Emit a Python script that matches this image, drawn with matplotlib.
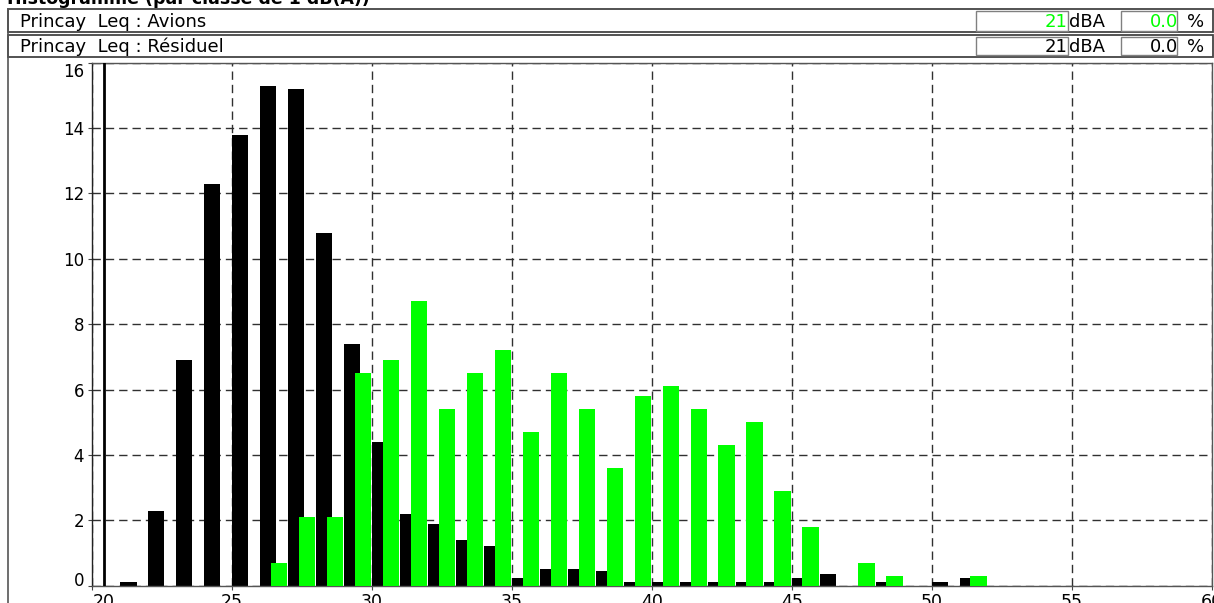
import matplotlib.pyplot as plt
from matplotlib.patches import Rectangle

# classes de 1 dB(A)
classes = list(range(21, 53))

# Princay Leq : Résiduel (noir)
residuel = [0.1, 2.3, 6.9, 12.3, 13.8, 15.3, 15.2, 10.8, 7.4, 4.4,
            2.2, 1.9, 1.4, 1.2, 0.25, 0.5, 0.5, 0.45, 0.1, 0.1,
            0.1, 0.1, 0.1, 0.1, 0.25, 0.35, 0.0, 0.1, 0.0, 0.1,
            0.25, 0.0]

# Princay Leq : Avions (vert)
avions = [0.0, 0.0, 0.0, 0.0, 0.0, 0.7, 2.1, 2.1, 6.5, 6.9,
          8.7, 5.4, 6.5, 7.2, 4.7, 6.5, 5.4, 3.6, 5.8, 6.1,
          5.4, 4.3, 5.0, 2.9, 1.8, 0.0, 0.7, 0.3, 0.0, 0.0,
          0.3, 0.0]

titre = 'Histogramme (par classe de 1 dB(A))'
lignes = ['Princay  Leq : Avions', 'Princay  Leq : Résiduel']
couleurs_lignes = ['#00ff00', 'black']
niveaux = ['21', '21']
pourcents = ['0.0', '0.0']

xticks = [20, 25, 30, 35, 40, 45, 50, 55, 60]
yticks = [0, 2, 4, 6, 8, 10, 12, 14, 16]
curseur_x = 20.43

W, H = 1214, 603
fig = plt.figure(figsize=(W / 100, H / 100), dpi=100)

ax = fig.add_axes([92.3 / W, (H - 585.7) / H, (1211.5 - 92.3) / W, (585.7 - 62.7) / H])
ax.set_zorder(1)

decal = [c + 0.38 for c in classes]
ax.bar(classes, residuel, width=0.58, align='edge', color='black', linewidth=0, zorder=2)
ax.bar(decal, avions, width=0.59, align='edge', color='#00ff00', linewidth=0, zorder=3)
ax.axvline(curseur_x, color='black', lw=2, zorder=4)

ax.set_xlim(20, 60)
ax.set_ylim(0, 16)
ax.set_xticks(xticks)
ax.set_yticks(yticks)
ax.grid(True, color='#303030', linestyle=(0, (6, 3.6)), linewidth=1, zorder=1)
ax.set_axisbelow(True)
ax.tick_params(axis='x', direction='out', length=3, pad=2, labelsize=12.5, color='#444444')
ax.tick_params(axis='y', direction='out', length=3, pad=3, labelsize=12, color='#444444')
for s in ax.spines.values():
    s.set_color('#555555')
    s.set_linewidth(1)
ax.spines['left'].set_color('#222222')
ax.xaxis.get_major_ticks()[0].label1.set_horizontalalignment('left')
ax.yaxis.get_major_ticks()[-1].label1.set_verticalalignment('top')
ax.yaxis.get_major_ticks()[0].label1.set_verticalalignment('baseline')

# cadre et en-tete en pixels
ov = fig.add_axes([0, 0, 1, 1])
ov.set_zorder(0)
ov.set_xlim(0, W)
ov.set_ylim(H, 0)
ov.axis('off')

ov.text(7, 4.5, titre, fontsize=12.5, fontweight='bold', va='baseline', ha='left')
ov.plot([7.5, 7.5], [8.5, H], color='#555555', lw=1.2)

rangs = [(9.3, 32.3), (35.0, 57.3)]
for i, (y0, y1) in enumerate(rangs):
    ov.add_patch(Rectangle((7.5, y0), 1213 - 7.5, y1 - y0, fill=False, ec='#444444', lw=1.3))
    ov.add_patch(Rectangle((976, y0 + 1.8), 1068.3 - 976, y1 - y0 - 3.6, fill=False, ec='#808080', lw=1))
    ov.add_patch(Rectangle((1120.7, y0 + 1.8), 1177.3 - 1120.7, y1 - y0 - 3.6, fill=False, ec='#808080', lw=1))
    yb = y1 - 5
    ov.text(20, yb, lignes[i], fontsize=13, va='baseline', ha='left')
    ov.text(1068, yb, niveaux[i], fontsize=13, va='baseline', ha='right', color=couleurs_lignes[i])
    ov.text(1069, yb, 'dBA', fontsize=13, va='baseline', ha='left')
    ov.text(1178, yb, pourcents[i], fontsize=13, va='baseline', ha='right', color=couleurs_lignes[i])
    ov.text(1187, yb, '%', fontsize=13, va='baseline', ha='left')

fig.savefig('out.png', dpi=100)
